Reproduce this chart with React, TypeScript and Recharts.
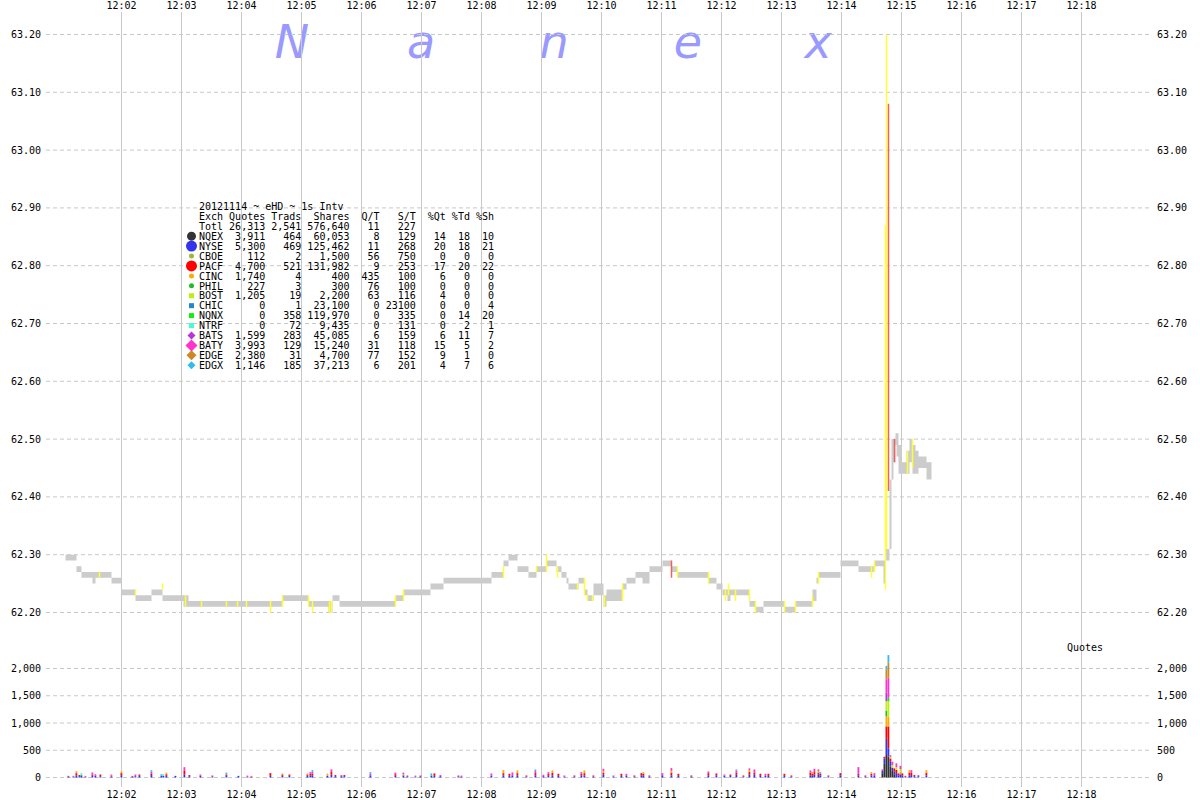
import React from 'react'
import { ComposedChart, Area, Line, Bar, XAxis, YAxis, CartesianGrid } from 'recharts'

// time is seconds after 12:00:00
const minuteTicks = [120, 180, 240, 300, 360, 420, 480, 540, 600, 660, 720, 780, 840, 900, 960, 1020, 1080]
const priceTicks = [62.2, 62.3, 62.4, 62.5, 62.6, 62.7, 62.8, 62.9, 63.0, 63.1, 63.2]
const quoteTicks = [0, 500, 1000, 1500, 2000]

// NBBO band (step after each time)
const bandTimes = [64, 75, 80, 91, 94, 110, 120, 134, 150, 161, 182, 187, 281, 307, 327, 331, 338, 394, 402, 429, 442, 490,
  502, 507, 516, 527, 535, 545, 555, 560, 565, 567, 577, 583, 586, 592, 602, 605, 621, 625, 634, 641, 648, 661, 670, 676,
  707, 715, 721, 726, 729, 748, 754, 762, 783, 794, 811, 815, 817, 839, 857, 873, 882, 884, 888, 890, 892, 894, 895, 897,
  900, 905, 908, 911, 914, 917, 925, 930]
const bandBid = [62.29, 62.27, 62.26, 62.25, 62.26, 62.25, 62.23, 62.22, 62.23, 62.22, 62.21, 62.21, 62.22, 62.21, 62.2, 62.22, 62.21, 62.22, 62.23, 62.24, 62.25, 62.26,
  62.28, 62.29, 62.27, 62.26, 62.27, 62.28, 62.27, 62.26, 62.25, 62.24, 62.25, 62.23, 62.22, 62.23, 62.21, 62.22, 62.24, 62.25, 62.26, 62.25, 62.27, 62.28, 62.27, 62.26,
  62.25, 62.24, 62.23, 62.22, 62.23, 62.21, 62.2, 62.21, 62.2, 62.21, 62.22, 62.25, 62.26, 62.28, 62.27, 62.28, 62.25, 62.29, 62.31, 62.43, 62.46, 62.49, 62.47, 62.44,
  62.44, 62.44, 62.46, 62.44, 62.44, 62.45, 62.43, 62.43]
const bandAsk = [62.3, 62.28, 62.27, 62.27, 62.27, 62.26, 62.24, 62.23, 62.24, 62.23, 62.23, 62.22, 62.23, 62.22, 62.22, 62.23, 62.22, 62.23, 62.24, 62.25, 62.26, 62.27,
  62.29, 62.3, 62.28, 62.27, 62.28, 62.29, 62.28, 62.27, 62.26, 62.25, 62.26, 62.24, 62.23, 62.25, 62.23, 62.24, 62.25, 62.26, 62.27, 62.27, 62.28, 62.29, 62.28, 62.27,
  62.26, 62.25, 62.24, 62.24, 62.24, 62.22, 62.21, 62.22, 62.21, 62.22, 62.24, 62.26, 62.27, 62.29, 62.28, 62.29, 62.29, 62.31, 62.43, 62.5, 62.5, 62.51, 62.51, 62.49,
  62.46, 62.48, 62.5, 62.49, 62.48, 62.47, 62.46, 62.46]

// prints: [time, low, high]
const yellowPrints = [
  [98, 62.26, 62.27], [134, 62.23, 62.24], [161, 62.24, 62.25], [184, 62.21, 62.23], [200, 62.21, 62.22], [225, 62.21, 62.22],
  [236, 62.21, 62.22], [245, 62.21, 62.22], [269, 62.2, 62.22], [281, 62.21, 62.23], [307, 62.21, 62.23], [311, 62.2, 62.22],
  [328, 62.2, 62.22], [330, 62.2, 62.22], [394, 62.21, 62.23], [402, 62.22, 62.24], [502, 62.26, 62.28], [535, 62.27, 62.28],
  [545, 62.27, 62.3], [556, 62.26, 62.28], [576, 62.24, 62.25], [583, 62.23, 62.26], [586, 62.22, 62.23], [591, 62.22, 62.23],
  [603, 62.21, 62.23], [621, 62.22, 62.25], [676, 62.26, 62.28], [707, 62.25, 62.27], [724, 62.22, 62.24], [727, 62.23, 62.25],
  [734, 62.22, 62.24], [748, 62.22, 62.24], [754, 62.2, 62.22], [783, 62.2, 62.22], [794, 62.2, 62.22], [811, 62.21, 62.23],
  [817, 62.25, 62.27], [870, 62.26, 62.28], [873, 62.27, 62.29], [884, 62.24, 62.87], [885, 62.31, 63.2], [906, 62.44, 62.48],
  [911, 62.45, 62.5],
]
const redPrints = [[670, 62.26, 62.29], [887, 62.41, 63.08], [893, 62.46, 62.5]]

const exchanges = ['NQEX', 'NYSE', 'CBOE', 'PACF', 'CINC', 'PHIL', 'BOST', 'CHIC', 'NQNX', 'NTRF', 'BATS', 'BATY', 'EDGE', 'EDGX']
const exchangeColors = ['#333333', '#3333ee', '#99bb33', '#ff0000', '#ffaa00', '#22bb22', '#bbee11', '#2288cc', '#11ee11', '#44ffcc', '#bb33dd', '#ff33cc', '#cc8822', '#33bbee']

// session table
const tableTitle = '20121114 ~ eHD ~ 1s Intv'
const totals = [26313, 2541, 576640, 11, 227]
const exchQuotes = [3911, 5300, 112, 4700, 1740, 227, 1205, 0, 0, 0, 1599, 3993, 2380, 1146]
const exchTrades = [464, 469, 2, 521, 4, 3, 19, 1, 358, 72, 283, 129, 31, 185]
const exchShares = [60053, 125462, 1500, 131982, 400, 300, 2200, 23100, 119970, 9435, 45085, 15240, 4700, 37213]
const exchQT = [8, 11, 56, 9, 435, 76, 63, 0, 0, 0, 6, 31, 77, 6]
const exchST = [129, 268, 750, 253, 100, 100, 116, 23100, 335, 131, 159, 118, 152, 201]
const pctQuotes = [14, 20, 0, 17, 6, 0, 4, 0, 0, 0, 6, 15, 9, 4]
const pctTrades = [18, 18, 0, 20, 0, 0, 0, 0, 14, 2, 11, 5, 1, 7]
const pctShares = [10, 21, 0, 22, 0, 0, 0, 4, 20, 1, 7, 2, 0, 6]

// quotes per second by exchange
const quoteBursts: Record<string, number>[] = [
  { t: 67, NYSE: 15, PACF: 15 }, { t: 72, NYSE: 20, BATY: 10 }, { t: 75, NYSE: 40, PACF: 40, CINC: 37 },
  { t: 78, NYSE: 25, PACF: 20 }, { t: 80, NYSE: 30, PHIL: 20, NTRF: 30 }, { t: 84, NYSE: 15, BATY: 15 },
  { t: 91, NYSE: 30, PACF: 20, BATY: 42 }, { t: 94, NYSE: 30, BATY: 30 }, { t: 99, NYSE: 25, PACF: 30 },
  { t: 110, NYSE: 20, PACF: 15, BATY: 20 }, { t: 120, NYSE: 40, PACF: 40, CINC: 30 }, { t: 131, NYSE: 15, PACF: 15 },
  { t: 134, NYSE: 25, BATY: 30 }, { t: 138, NYSE: 30, PACF: 25 }, { t: 150, NYSE: 45, PACF: 30, BATY: 30, EDGX: 30 },
  { t: 160, NYSE: 30, EDGX: 30 }, { t: 162, NYSE: 30, NTRF: 30 }, { t: 165, NYSE: 30, PACF: 30, CINC: 30 },
  { t: 174, NYSE: 30 }, { t: 183, NYSE: 50, PACF: 70, BATY: 70 }, { t: 188, NYSE: 25, PACF: 20 },
  { t: 199, NYSE: 30, BATY: 25 }, { t: 211, NYSE: 20, PACF: 15 }, { t: 225, NYSE: 30, PACF: 25, EDGX: 35 },
  { t: 237, NYSE: 30 }, { t: 246, NYSE: 20, BATY: 15 }, { t: 250, PACF: 15, BATY: 15 },
  { t: 269, NYSE: 30, PACF: 50 }, { t: 281, NYSE: 30, PACF: 25, CINC: 20 }, { t: 288, NYSE: 30, PACF: 25 },
  { t: 306, NYSE: 30, PACF: 25, CINC: 20 }, { t: 309, NYSE: 40, PACF: 30, BATY: 30 }, { t: 311, NYSE: 40, PACF: 30, BATY: 30, EDGX: 35 },
  { t: 326, NYSE: 30, CINC: 40 }, { t: 330, NYSE: 50, PACF: 50, BATY: 50 }, { t: 334, NYSE: 25, PACF: 20 },
  { t: 340, NYSE: 25, BATY: 20 }, { t: 343, NYSE: 25, PACF: 20 }, { t: 369, NYSE: 40, BATY: 30, EDGX: 30 },
  { t: 394, NYSE: 30, PACF: 30, BATY: 30 }, { t: 402, NYSE: 40, CINC: 20, BATY: 30 }, { t: 406, NYSE: 20, PACF: 15 },
  { t: 414, NYSE: 20, BATY: 15 }, { t: 419, NYSE: 20, PACF: 15 }, { t: 430, NYSE: 30, EDGX: 45 },
  { t: 433, NYSE: 30, PACF: 45 }, { t: 439, NYSE: 25, BATY: 20 }, { t: 457, NYSE: 20, PACF: 15 },
  { t: 460, NYSE: 20, BATY: 15 }, { t: 490, NYSE: 30, BATY: 44 }, { t: 502, NYSE: 40, PACF: 40, CINC: 56 },
  { t: 508, NYSE: 30, PACF: 38 }, { t: 511, NYSE: 40, BATY: 53 }, { t: 516, NYSE: 40, PACF: 40, CINC: 50 },
  { t: 525, NYSE: 20, PACF: 17 }, { t: 534, NYSE: 40, PACF: 40, BATY: 40, EDGX: 28 }, { t: 542, NYSE: 25, BATY: 25 },
  { t: 547, NYSE: 30, PACF: 39, BATY: 30 }, { t: 551, NYSE: 40, PACF: 50, CINC: 40 }, { t: 557, NYSE: 30, PACF: 38 },
  { t: 563, NYSE: 20, BATY: 17 }, { t: 573, NYSE: 20, PACF: 17 }, { t: 580, NYSE: 40, PACF: 30, BATY: 29 },
  { t: 583, NYSE: 40, PACF: 40, CINC: 50 }, { t: 592, NYSE: 20, PACF: 17 }, { t: 602, NYSE: 50, PACF: 40, CINC: 30, BATY: 40 },
  { t: 612, NYSE: 20, BATY: 17 }, { t: 620, NYSE: 30, PACF: 38 }, { t: 625, NYSE: 30, BATY: 38 },
  { t: 633, NYSE: 20, PACF: 17 }, { t: 640, NYSE: 40, PACF: 40 }, { t: 642, NYSE: 40, PACF: 30, CINC: 29 },
  { t: 648, NYSE: 20, PACF: 17 }, { t: 661, NYSE: 40, BATY: 40 }, { t: 670, NYSE: 40, PACF: 50, CINC: 33, BATY: 50 },
  { t: 677, NYSE: 30, PACF: 38 }, { t: 690, NYSE: 20, PACF: 17 }, { t: 707, NYSE: 40, PACF: 40, BATY: 31 },
  { t: 715, NYSE: 40, PACF: 34 }, { t: 723, NYSE: 30, BATY: 25 }, { t: 729, NYSE: 30, PACF: 25 },
  { t: 735, NYSE: 50, PACF: 40, BATY: 40, EDGX: 18 }, { t: 742, NYSE: 20, PACF: 17 },
  { t: 748, NYSE: 50, PACF: 50, CINC: 37, BATY: 30 }, { t: 753, NYSE: 50, PACF: 40, BATY: 58 },
  { t: 759, NYSE: 30, PACF: 38 }, { t: 764, NYSE: 30, BATY: 38 }, { t: 767, NYSE: 30, PACF: 38 },
  { t: 783, NYSE: 30, PACF: 38 }, { t: 790, NYSE: 20, PACF: 17 }, { t: 809, NYSE: 40, PACF: 50, BATY: 40 },
  { t: 811, NYSE: 40, PACF: 30, CINC: 29 }, { t: 813, NYSE: 50, PACF: 50, BATY: 60 },
  { t: 817, NYSE: 50, PACF: 40, CINC: 30, BATY: 28 }, { t: 819, NYSE: 40, PACF: 30, EDGX: 29 },
  { t: 827, NYSE: 20, PACF: 17 }, { t: 839, NYSE: 40, PACF: 40 }, { t: 857, NYSE: 40, PACF: 30, BATY: 121 },
  { t: 864, NYSE: 20, PACF: 17 }, { t: 870, NYSE: 40, PACF: 30, CINC: 29 }, { t: 873, NYSE: 40, BATY: 40 },
  { t: 881, NQEX: 80, NYSE: 40, BATY: 30 }, { t: 883, NQEX: 250, NYSE: 100, PACF: 30 },
  { t: 885, NQEX: 413, NYSE: 296, PACF: 228, CINC: 185, PHIL: 105, BOST: 173, BATS: 154, BATY: 247, EDGE: 185, EDGX: 62 },
  { t: 887, NQEX: 383, NYSE: 154, PACF: 400, CINC: 185, BOST: 278, NQNX: 62, BATY: 370, EDGE: 278, EDGX: 136 },
  { t: 889, NQEX: 200, NYSE: 100, PACF: 50, BOST: 30, BATY: 30 }, { t: 891, NQEX: 120, NYSE: 60, BOST: 50, BATY: 60 },
  { t: 893, NQEX: 60, NYSE: 50, PACF: 57 }, { t: 895, NYSE: 80, PACF: 60, BOST: 50, BATY: 70 },
  { t: 897, NYSE: 40, PACF: 35 }, { t: 899, NYSE: 60, CINC: 45, BOST: 50, BATY: 60 }, { t: 901, NYSE: 40, PACF: 35 },
  { t: 904, NYSE: 15, PACF: 15 }, { t: 908, NYSE: 40, PACF: 50, CINC: 45 }, { t: 910, NYSE: 45, PACF: 40, BATY: 50 },
  { t: 913, NYSE: 25, PACF: 20 }, { t: 917, NYSE: 25, BATY: 20 }, { t: 925, NYSE: 40, PACF: 45, CINC: 50 },
]

const FONT = 'DejaVu Sans Mono'
const timeDomain = [44.5, 1149.5]
const tickStyle = { fontFamily: FONT, fontSize: 10, fill: '#000' }

const bandData = bandTimes.map((t, i) => ({ t, range: [bandBid[i], bandAsk[i]] }))
const toSegments = (prints: number[][]) =>
  prints.flatMap(([t, lo, hi]) => [{ t, p: lo }, { t, p: hi }, { t, p: null }])
const quoteRows = quoteBursts.map((row) => {
  const out: Record<string, number> = { t: row.t }
  exchanges.forEach((ex) => { out[ex] = row[ex] || 0 })
  return out
})

const fmtMinute = (t: number) => `12:${String(t / 60).padStart(2, '0')}`
const fmtPrice = (v: number) => v.toFixed(2)
const fmtNum = (v: number) => v.toLocaleString('en-US')
const pad = (v: string | number, w: number) => String(v).padStart(w)

const tableLines = [
  'Exch' + pad('Quotes', 7) + pad('Trads', 6) + pad('Shares', 8) + pad('Q/T', 5) + pad('S/T', 6) + pad('%Qt', 5) + pad('%Td', 4) + pad('%Sh', 4),
  'Totl' + pad(fmtNum(totals[0]), 7) + pad(fmtNum(totals[1]), 6) + pad(fmtNum(totals[2]), 8) + pad(totals[3], 5) + pad(totals[4], 6),
  ...exchanges.map((ex, i) =>
    ex + pad(fmtNum(exchQuotes[i]), 7) + pad(fmtNum(exchTrades[i]), 6) + pad(fmtNum(exchShares[i]), 8) +
    pad(exchQT[i], 5) + pad(exchST[i], 6) + pad(pctQuotes[i], 5) + pad(pctTrades[i], 4) + pad(pctShares[i], 4)),
]

const markerShape = ['circle', 'circle', 'circle', 'circle', 'circle', 'circle', 'square', 'square', 'square', 'square', 'diamond', 'diamond', 'diamond', 'diamond']
const markerSize = [4.5, 5.5, 2.5, 5.5, 2.5, 2.5, 2.5, 2.5, 2.5, 2.5, 4, 6, 5, 4]

const Marker = ({ i, x, y }: { i: number; x: number; y: number }) => {
  const r = markerSize[i]
  const c = exchangeColors[i]
  if (markerShape[i] === 'circle') return <circle cx={x} cy={y} r={r} fill={c} />
  if (markerShape[i] === 'square') return <rect x={x - r} y={y - r} width={r * 2} height={r * 2} fill={c} />
  return <polygon points={`${x},${y - r} ${x + r},${y} ${x},${y + r} ${x - r},${y}`} fill={c} />
}

const watermark = ['N', 'a', 'n', 'e', 'x']
const watermarkX = [292, 421, 554, 688, 818]

export default function App() {
  return (
    <div style={{ position: 'absolute', left: 0, top: 0, width: 1200, height: 800, background: '#fff' }}>
      <svg width={1200} height={800} style={{ position: 'absolute', left: 0, top: 0 }}>
        {watermark.map((ch, i) => (
          <text key={i} x={watermarkX[i]} y={58} textAnchor="middle" fontFamily="DejaVu Sans" fontStyle="italic" fontSize={46} fill="#9999ff">{ch}</text>
        ))}
      </svg>

      <div style={{ position: 'absolute', left: 0, top: 0 }}>
        <ComposedChart width={1200} height={640} margin={{ top: 0, right: 0, bottom: 0, left: 0 }}>
          <CartesianGrid vertical={false} syncWithTicks stroke="#c8c8c8" strokeDasharray="4 3" />
          <CartesianGrid horizontal={false} syncWithTicks stroke="#c8c8c8" />
          <XAxis type="number" dataKey="t" orientation="top" height={12} domain={timeDomain} allowDataOverflow
            ticks={minuteTicks} interval={0} tickFormatter={fmtMinute} axisLine={false} tickLine={false}
            tickSize={0} tickMargin={3} tick={tickStyle} />
          <YAxis domain={[62.15242, 63.23893]} allowDataOverflow ticks={priceTicks} interval={0} width={46}
            tickFormatter={fmtPrice} axisLine={false} tickLine={false} tickSize={0} tickMargin={5} tick={tickStyle} />
          <YAxis yAxisId="r" orientation="right" domain={[62.15242, 63.23893]} allowDataOverflow ticks={priceTicks}
            interval={0} width={49} tickFormatter={fmtPrice} axisLine={false} tickLine={false} tickSize={0}
            tickMargin={6} tick={{ ...tickStyle, textAnchor: 'start' }} />
          <Area data={bandData} dataKey="range" type="stepAfter" fill="#cccccc" fillOpacity={1} stroke="none"
            isAnimationActive={false} />
          <Line data={toSegments(yellowPrints)} dataKey="p" stroke="#ffff33" strokeWidth={1.5} dot={false}
            connectNulls={false} isAnimationActive={false} />
          <Line data={toSegments(redPrints)} dataKey="p" stroke="#f06060" strokeWidth={1.5} dot={false}
            connectNulls={false} isAnimationActive={false} />
        </ComposedChart>
      </div>

      <div style={{ position: 'absolute', left: 0, top: 640 }}>
        <ComposedChart width={1200} height={160} data={quoteRows} margin={{ top: 0, right: 0, bottom: 0, left: 0 }}
          barGap={0} barCategoryGap={0}>
          <CartesianGrid vertical={false} syncWithTicks stroke="#c8c8c8" strokeDasharray="4 3" />
          <CartesianGrid horizontal={false} syncWithTicks stroke="#c8c8c8" />
          <XAxis type="number" dataKey="t" height={13} domain={timeDomain} allowDataOverflow ticks={minuteTicks}
            interval={0} tickFormatter={fmtMinute} axisLine={false} tickLine={false} tickSize={0} tickMargin={4}
            tick={tickStyle} />
          <YAxis domain={[-174.3, 2522.9]} allowDataOverflow ticks={quoteTicks} interval={0} width={46}
            tickFormatter={fmtNum} axisLine={false} tickLine={false} tickSize={0} tickMargin={5} tick={tickStyle} />
          <YAxis yAxisId="r" orientation="right" domain={[-174.3, 2522.9]} allowDataOverflow ticks={quoteTicks}
            interval={0} width={49} tickFormatter={fmtNum} axisLine={false} tickLine={false} tickSize={0}
            tickMargin={6} tick={{ ...tickStyle, textAnchor: 'start' }} />
          {exchanges.map((ex, i) => (
            <Bar key={ex} dataKey={ex} stackId="q" fill={exchangeColors[i]} barSize={2} isAnimationActive={false} />
          ))}
        </ComposedChart>
      </div>

      <svg width={1200} height={800} style={{ position: 'absolute', left: 0, top: 0, pointerEvents: 'none' }}>
        <text x={199} y={210} fontFamily={FONT} fontSize={10} style={{ whiteSpace: 'pre' }}>{tableTitle}</text>
        {tableLines.map((line, i) => (
          <text key={i} x={199} y={220 + i * 9.93} fontFamily={FONT} fontSize={10} style={{ whiteSpace: 'pre' }}>{line}</text>
        ))}
        {exchanges.map((ex, i) => (
          <Marker key={ex} i={i} x={191.5} y={220 + (i + 2) * 9.93 - 3.7} />
        ))}
        <text x={1067} y={651} fontFamily={FONT} fontSize={10}>Quotes</text>
      </svg>
    </div>
  )
}
